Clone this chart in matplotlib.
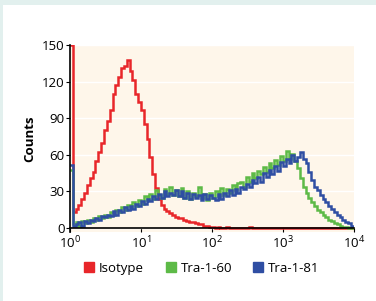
import numpy as np
import matplotlib.pyplot as plt
from matplotlib.patches import Rectangle
from matplotlib.lines import Line2D

# histogram channels: 100 bins over 4 decades (log10 of fluorescence)
log_edges = np.linspace(0, 4, 101)

isotype = [
    150, 13, 16, 19, 24, 29, 35, 41, 46, 55,
    62, 70, 80, 88, 97, 110, 117, 124, 131, 133,
    138, 129, 121, 110, 103, 97, 85, 73, 58, 44,
    33, 24, 19, 16, 14, 12, 11, 9, 8, 8,
    7, 6, 5, 5, 4, 3, 3, 2, 2, 1,
    1, 0, 1, 0, 0, 1, 0, 0, 0, 0,
    0, 0, 0, 1, 0, 0, 0, 0, 0, 0,
    0, 0, 0, 0, 0, 0, 0, 0, 0, 0,
    0, 0, 0, 0, 0, 0, 0, 0, 0, 0,
    0, 0, 0, 0, 0, 0, 0, 0, 0, 0,
]

tra_1_60 = [
    48, 3, 5, 2, 6, 4, 7, 5, 8, 7,
    10, 8, 11, 9, 13, 11, 15, 13, 17, 15,
    19, 17, 21, 18, 23, 20, 26, 23, 28, 24,
    31, 27, 25, 32, 28, 34, 27, 31, 26, 33,
    25, 30, 24, 29, 26, 34, 25, 28, 23, 29,
    25, 30, 26, 33, 27, 32, 29, 35, 31, 37,
    38, 34, 42, 38, 45, 41, 47, 44, 50, 46,
    53, 49, 56, 52, 59, 55, 63, 57, 61, 55,
    49, 41, 34, 29, 25, 21, 18, 15, 13, 11,
    9, 7, 6, 4, 3, 2, 1, 1, 0, 0,
]

tra_1_81 = [
    52, 2, 3, 5, 2, 6, 4, 7, 6, 8,
    7, 10, 9, 11, 10, 14, 11, 15, 13, 17,
    15, 18, 16, 20, 18, 22, 20, 24, 22, 26,
    24, 28, 25, 30, 26, 29, 27, 31, 26, 30,
    25, 29, 24, 28, 25, 27, 23, 28, 24, 27,
    25, 23, 28, 24, 29, 26, 31, 27, 32, 29,
    34, 32, 36, 34, 39, 37, 42, 38, 45, 42,
    48, 44, 51, 47, 54, 51, 57, 53, 60, 55,
    58, 62, 57, 53, 46, 39, 34, 31, 27, 24,
    21, 18, 16, 13, 11, 9, 7, 5, 4, 2,
]

labels = ['Isotype', 'Tra-1-60', 'Tra-1-81']
colors = ['#e8262a', '#5dba47', '#2f4ea3']

plt.rcParams['font.family'] = ['Open Sans', 'DejaVu Sans']
plt.rcParams['mathtext.fontset'] = 'custom'
plt.rcParams['mathtext.rm'] = 'Open Sans'

fig = plt.figure(figsize=(3.76, 3.01), dpi=100)
fig.patch.set_facecolor('white')
# light teal frame on top and left
fig.add_artist(Rectangle((0, 1 - 5 / 301), 1, 5 / 301, transform=fig.transFigure,
                         color='#e2f0ee', lw=0, zorder=0))
fig.add_artist(Rectangle((0, 0), 3 / 376, 1, transform=fig.transFigure,
                         color='#e2f0ee', lw=0, zorder=0))

ax = fig.add_axes([0.186, 0.230, 0.755, 0.6205])
ax.set_facecolor('#fef6ea')

edges = 10 ** log_edges
for vals, col in zip([isotype, tra_1_60, tra_1_81], colors):
    ax.stairs(vals, edges, color=col, lw=1.8, baseline=None)

ax.set_xscale('log')
ax.set_xlim(1, 1e4)
ax.set_ylim(-3, 150)
ax.set_yticks([0, 30, 60, 90, 120, 150])
ax.set_xticks([1, 10, 100, 1000, 10000])
ax.set_xticklabels([r'$\mathregular{10^%d}$' % k for k in range(5)])
ax.minorticks_off()
ax.grid(axis='y', color='white', lw=1)
ax.set_axisbelow(True)

for s in ['top', 'right']:
    ax.spines[s].set_visible(False)
ax.spines['bottom'].set_position(('data', 0))
ax.spines['left'].set_color('black')
ax.spines['bottom'].set_color('black')
ax.spines['left'].set_linewidth(1.2)
ax.spines['bottom'].set_linewidth(1.2)
ax.tick_params(axis='both', labelsize=9.5, length=3, width=0.8, pad=1, colors='black')
ax.tick_params(axis='x', pad=2)

ax.set_ylabel('Counts', fontsize=9.5, fontweight='bold', labelpad=4)

handles = [Line2D([], [], marker='s', ls='none', color=c, markersize=7) for c in colors]
fig.legend(handles, labels, loc='center', bbox_to_anchor=(0.535, 0.108), ncol=3,
           frameon=False, fontsize=9.5, handletextpad=0.25, columnspacing=1.5,
           handlelength=1.0)

fig.savefig('out.png', dpi=100, facecolor=fig.get_facecolor())
